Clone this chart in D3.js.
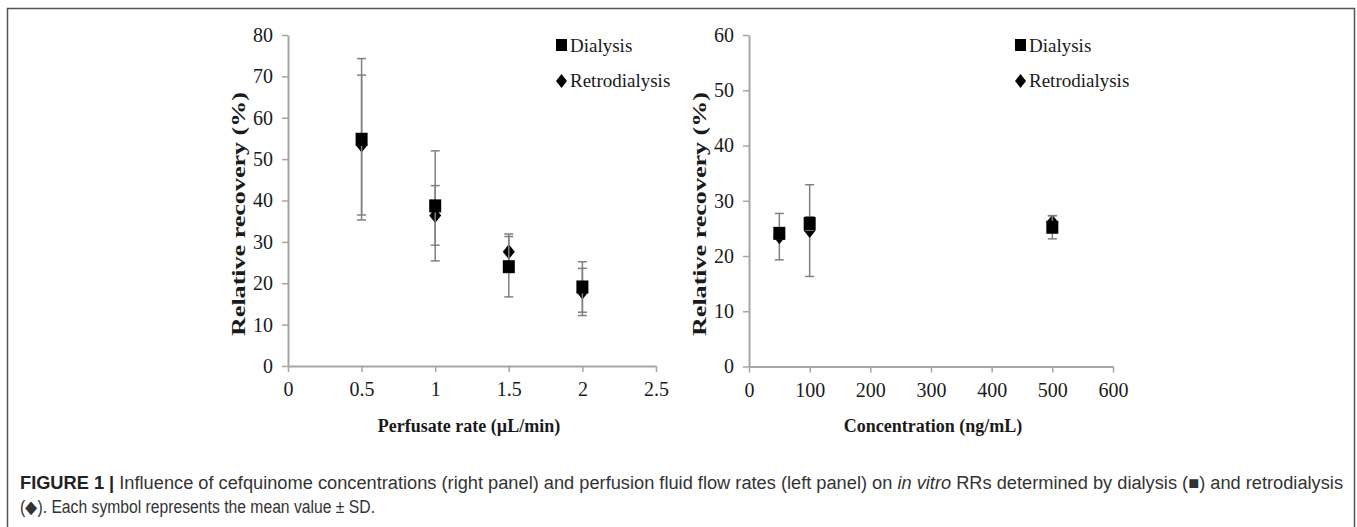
<!DOCTYPE html>
<html>
<head>
<meta charset="utf-8">
<script src="https://cdn.jsdelivr.net/npm/d3@7"></script>
<style>
html,body{margin:0;padding:0;background:#fff;}
svg{display:block;}
</style>
</head>
<body>
<svg id="chart" width="1357" height="527"></svg>
<script>
// ---- Data ----
const seriesNames = ["Dialysis", "Retrodialysis"];

// Left panel: perfusate rate (µL/min)
const rateX = [0.5, 1, 1.5, 2];
const rateDialysisMean = [54.8, 38.7, 24.0, 19.1];
const rateDialysisSD   = [19.5, 13.3, 7.3, 6.1];
const rateRetroMean    = [53.4, 36.4, 27.6, 17.9];
const rateRetroSD      = [16.9, 7.2, 4.3, 5.7];
const rateXTicks = [0, 0.5, 1, 1.5, 2, 2.5];
const rateYTicks = [0, 10, 20, 30, 40, 50, 60, 70, 80];

// Right panel: concentration (ng/mL)
const concX = [50, 100, 500];
const concDialysisMean = [24.1, 25.9, 25.2];
const concDialysisSD   = [1.0, 1.2, 2.1];
const concRetroMean    = [23.5, 24.6, 26.1];
const concRetroSD      = [4.2, 8.3, 1.2];
const concXTicks = [0, 100, 200, 300, 400, 500, 600];
const concYTicks = [0, 10, 20, 30, 40, 50, 60];

const yLabel = "Relative recovery (%)";
const rateXLabel = "Perfusate rate (\u00b5L/min)";
const concXLabel = "Concentration (ng/mL)";

// ---- Drawing ----
const svg = d3.select("#chart");
const serif = "'Liberation Serif','Times New Roman',serif";
const axisColor = "#a6a6a6";
const errColor = "#808080";

// frame
svg.append("path")
  .attr("d", "M7.5,540 L7.5,8.5 L1354.5,8.5 L1354.5,540")
  .attr("fill", "none").attr("stroke", "#555").attr("stroke-width", 1.5);

function panel(opts) {
  const x = d3.scaleLinear().domain(opts.xDomain).range(opts.xRange);
  const y = d3.scaleLinear().domain(opts.yDomain).range(opts.yRange);
  const g = svg.append("g");

  // y axis
  const ya = g.append("g").attr("transform", `translate(${opts.xRange[0]},0)`)
    .call(d3.axisLeft(y).tickValues(opts.yTicks).tickSize(6).tickSizeOuter(0).tickPadding(9).tickFormat(d3.format("d")));
  // x axis
  const xa = g.append("g").attr("transform", `translate(0,${opts.yRange[0]})`)
    .call(d3.axisBottom(x).tickValues(opts.xTicks).tickSize(6).tickSizeOuter(0).tickPadding(14).tickFormat(d => String(d)));
  [ya, xa].forEach(a => {
    a.select(".domain").attr("stroke", axisColor).attr("stroke-width", 2);
    a.selectAll(".tick line").attr("stroke", axisColor).attr("stroke-width", 1.5);
    a.selectAll(".tick text").attr("fill", "#1a1a1a").attr("font-family", serif).attr("font-size", 20);
  });
  xa.selectAll(".tick text").attr("dy", "0.5em");

  // series
  const series = [
    {name: seriesNames[1], xs: opts.x, m: opts.retroMean, sd: opts.retroSD, shape: "diamond"},
    {name: seriesNames[0], xs: opts.x, m: opts.dialMean, sd: opts.dialSD, shape: "square"}
  ];
  series.forEach(s => {
    const pts = s.xs.map((xv, i) => ({x: xv, m: s.m[i], sd: s.sd[i]}));
    const eg = g.append("g").attr("stroke", errColor).attr("stroke-width", 1.5).attr("fill", "none");
    eg.selectAll("line.v").data(pts).join("line").attr("class", "v")
      .attr("x1", d => x(d.x)).attr("x2", d => x(d.x))
      .attr("y1", d => y(d.m + d.sd)).attr("y2", d => y(d.m - d.sd));
    eg.selectAll("line.t").data(pts).join("line").attr("class", "t")
      .attr("x1", d => x(d.x) - 4.5).attr("x2", d => x(d.x) + 4.5)
      .attr("y1", d => y(d.m + d.sd)).attr("y2", d => y(d.m + d.sd));
    eg.selectAll("line.b").data(pts).join("line").attr("class", "b")
      .attr("x1", d => x(d.x) - 4.5).attr("x2", d => x(d.x) + 4.5)
      .attr("y1", d => y(d.m - d.sd)).attr("y2", d => y(d.m - d.sd));
    const mg = g.append("g").attr("fill", "#000");
    if (s.shape === "square") {
      mg.selectAll("rect").data(pts).join("rect")
        .attr("x", d => x(d.x) - 6).attr("y", d => y(d.m) - 6.5)
        .attr("width", 12).attr("height", 13);
    } else {
      mg.selectAll("path").data(pts).join("path")
        .attr("d", d => { const cx = x(d.x), cy = y(d.m); return `M${cx},${cy-7.5}L${cx+6},${cy}L${cx},${cy+7.5}L${cx-6},${cy}Z`; });
    }
  });

  // legend
  const lx = opts.xRange[0] + opts.legendOffset;
  const lg = g.append("g");
  lg.append("rect").attr("x", lx).attr("y", 39).attr("width", 11).attr("height", 12).attr("fill", "#000");
  lg.append("text").attr("x", lx + 14).attr("y", 52).text(seriesNames[0])
    .attr("font-family", serif).attr("font-size", 19).attr("fill", "#1a1a1a");
  lg.append("path").attr("d", `M${lx+5.5},${74}L${lx+11},${81}L${lx+5.5},${88}L${lx},${81}Z`).attr("fill", "#000");
  lg.append("text").attr("x", lx + 14).attr("y", 87).text(seriesNames[1])
    .attr("font-family", serif).attr("font-size", 19).attr("fill", "#1a1a1a");

  // axis titles
  g.append("text")
    .attr("transform", `translate(${opts.yLabelX},214) rotate(-90)`)
    .attr("text-anchor", "middle").attr("font-family", serif).attr("font-weight", "bold")
    .attr("font-size", 19).attr("fill", "#1a1a1a")
    .attr("textLength", 244).attr("lengthAdjust", "spacingAndGlyphs")
    .text(yLabel);
  g.append("text")
    .attr("x", opts.xLabelX).attr("y", 432)
    .attr("text-anchor", "middle").attr("font-family", serif).attr("font-weight", "bold")
    .attr("font-size", 18).attr("fill", "#1a1a1a")
    .text(opts.xLabel);
}

panel({
  xDomain: [0, 2.5], xRange: [288, 656], yDomain: [0, 80], yRange: [366, 35],
  xTicks: rateXTicks, yTicks: rateYTicks,
  x: rateX, dialMean: rateDialysisMean, dialSD: rateDialysisSD, retroMean: rateRetroMean, retroSD: rateRetroSD,
  legendOffset: 268, yLabelX: 245, xLabelX: 469, xLabel: rateXLabel
});
panel({
  xDomain: [0, 600], xRange: [749, 1113], yDomain: [0, 60], yRange: [366.5, 35],
  xTicks: concXTicks, yTicks: concYTicks,
  x: concX, dialMean: concDialysisMean, dialSD: concDialysisSD, retroMean: concRetroMean, retroSD: concRetroSD,
  legendOffset: 266, yLabelX: 706, xLabelX: 933, xLabel: concXLabel
});

// caption
const capFont = "'Liberation Sans Narrow','Arial Narrow','Liberation Sans',Arial,sans-serif";
const cap1 = svg.append("text").attr("x", 20).attr("y", 489)
  .attr("font-family", capFont).attr("font-size", 18).attr("fill", "#333")
  .attr("textLength", 1323).attr("lengthAdjust", "spacingAndGlyphs");
cap1.append("tspan").attr("font-weight", "bold").attr("fill", "#222").text("FIGURE 1 | ");
cap1.append("tspan").text("Influence of cefquinome concentrations (right panel) and perfusion fluid flow rates (left panel) on ");
cap1.append("tspan").attr("font-style", "italic").text("in vitro");
cap1.append("tspan").text(" RRs determined by dialysis (\u25A0) and retrodialysis");
svg.append("text").attr("x", 20).attr("y", 513)
  .attr("font-family", capFont).attr("font-size", 18).attr("fill", "#333")
  .attr("textLength", 355).attr("lengthAdjust", "spacingAndGlyphs")
  .text("(\u25C6). Each symbol represents the mean value \u00b1 SD.");
</script>
</body>
</html>
